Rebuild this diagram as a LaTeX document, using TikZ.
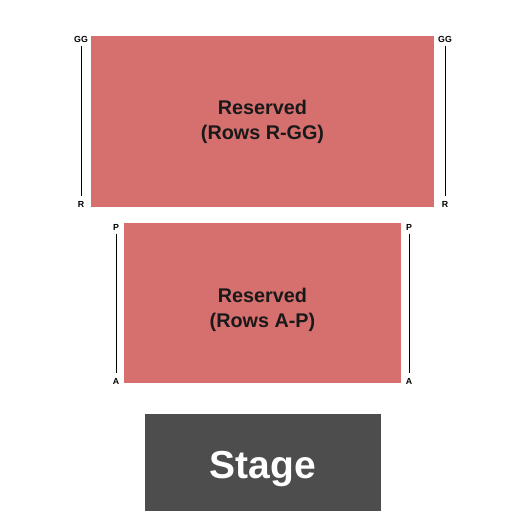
\documentclass[tikz,border=0pt]{standalone}
\usepackage{fontspec}
\setmainfont{Liberation Sans}
\usetikzlibrary{calc}
\begin{document}
\begin{tikzpicture}[x=1pt,y=-1pt,
  sect/.style={fill=secred,draw=none},
  rowlbl/.style={font=\bfseries\fontsize{8.8}{9}\selectfont,inner sep=0pt},
  rowline/.style={draw=black,line width=1pt},
  big/.style={font=\bfseries\fontsize{19.8}{25}\selectfont,align=center,text=black!90}]
\definecolor{secred}{HTML}{D6706E}
\definecolor{stagegray}{HTML}{4D4D4D}
\useasboundingbox[fill=white] (0,0) rectangle (525,525);
% top section
\fill[sect] (91,36) rectangle (434,207);
\node[big] (t1) at (262.5,121.5) {Reserved\\(Rows R-GG)};
\node[rowlbl] (gg1) at (81,39) {GG};
\node[rowlbl] (r1) at (81,204) {R};
\node[rowlbl] (gg2) at (445,39) {GG};
\node[rowlbl] (r2) at (445,204) {R};
\draw[rowline] ($(gg1.south)+(0,3.5)$) -- ($(r1.north)+(0,-4.5)$);
\draw[rowline] ($(gg2.south)+(0,3.5)$) -- ($(r2.north)+(0,-4.5)$);
% bottom section
\fill[sect] (124,223) rectangle (401,383);
\node[big] (t2) at (262.5,309.5) {Reserved\\(Rows A-P)};
\node[rowlbl] (p1) at (116,227) {P};
\node[rowlbl] (a1) at (116,381) {A};
\node[rowlbl] (p2) at (409,227) {P};
\node[rowlbl] (a2) at (409,381) {A};
\draw[rowline] ($(p1.south)+(0,3.5)$) -- ($(a1.north)+(0,-4.5)$);
\draw[rowline] ($(p2.south)+(0,3.5)$) -- ($(a2.north)+(0,-4.5)$);
% stage
\fill[stagegray] (145,414) rectangle (381,511);
\node[font=\bfseries\fontsize{39}{40}\selectfont,text=white] (st) at (263,469) {Stage};
\end{tikzpicture}
\end{document}
